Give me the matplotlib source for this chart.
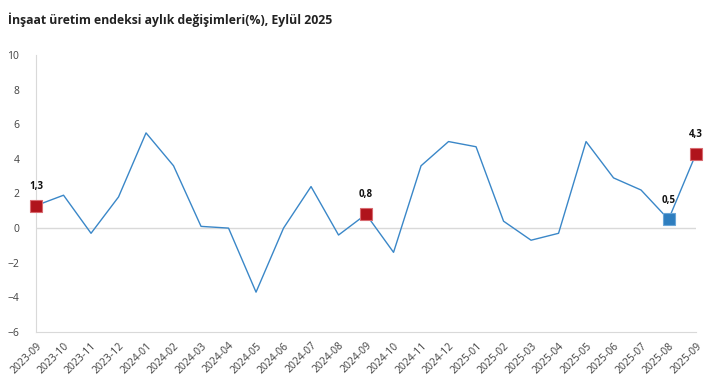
import matplotlib.pyplot as plt

months = ["2023-09", "2023-10", "2023-11", "2023-12", "2024-01", "2024-02", "2024-03",
          "2024-04", "2024-05", "2024-06", "2024-07", "2024-08", "2024-09", "2024-10",
          "2024-11", "2024-12", "2025-01", "2025-02", "2025-03", "2025-04", "2025-05",
          "2025-06", "2025-07", "2025-08", "2025-09"]
values = [1.3, 1.9, -0.3, 1.8, 5.5, 3.6, 0.1, 0.0, -3.7, 0.0, 2.4, -0.4, 0.8, -1.4,
          3.6, 5.0, 4.7, 0.4, -0.7, -0.3, 5.0, 2.9, 2.2, 0.5, 4.3]
red_idx = [0, 12, 24]
blue_idx = [23]
labels = {0: "1,3", 12: "0,8", 23: "0,5", 24: "4,3"}

plt.rcParams['font.family'] = ['Open Sans', 'DejaVu Sans']

fig = plt.figure(figsize=(7.12, 3.82), dpi=100)
ax = fig.add_axes([0.0506, 0.131, 0.927, 0.725])

x = list(range(len(months)))
ax.plot(x, values, color='#3a87c8', lw=1, zorder=2)
ax.plot([x[i] for i in red_idx], [values[i] for i in red_idx], 's', ms=9,
        color='#b0141c', mec='#d86a70', mew=0.8, clip_on=False, zorder=3)
ax.plot([x[i] for i in blue_idx], [values[i] for i in blue_idx], 's', ms=9,
        color='#2e7ebf', mec='#6aa6d8', mew=0.8, clip_on=False, zorder=3)
for i, t in labels.items():
    ax.annotate(t, (x[i], values[i]), xytext=(0, 10), textcoords='offset points',
                ha='center', va='bottom', fontsize=7, fontweight='bold', color='#111111')

ax.axhline(0, color='#d9d9d9', lw=1, zorder=1)
ax.set_xlim(0, len(months) - 1)
ax.set_ylim(-6, 10)
ax.set_yticks(range(-6, 11, 2))
ax.set_xticks(x)
ax.set_xticklabels(months, rotation=45, ha='right', rotation_mode='anchor')
ax.tick_params(axis='both', length=0, labelsize=7.5, colors='#404040')
ax.tick_params(axis='y', pad=12)
ax.tick_params(axis='x', pad=6)
for s in ['top', 'right']:
    ax.spines[s].set_visible(False)
for s in ['left', 'bottom']:
    ax.spines[s].set_color('#d9d9d9')

fig.text(0.011, 0.968, "İnşaat üretim endeksi aylık değişimleri(%), Eylül 2025",
         fontsize=8.8, fontweight='bold', color='#222222', va='top')

fig.savefig("out.png", dpi=100)
